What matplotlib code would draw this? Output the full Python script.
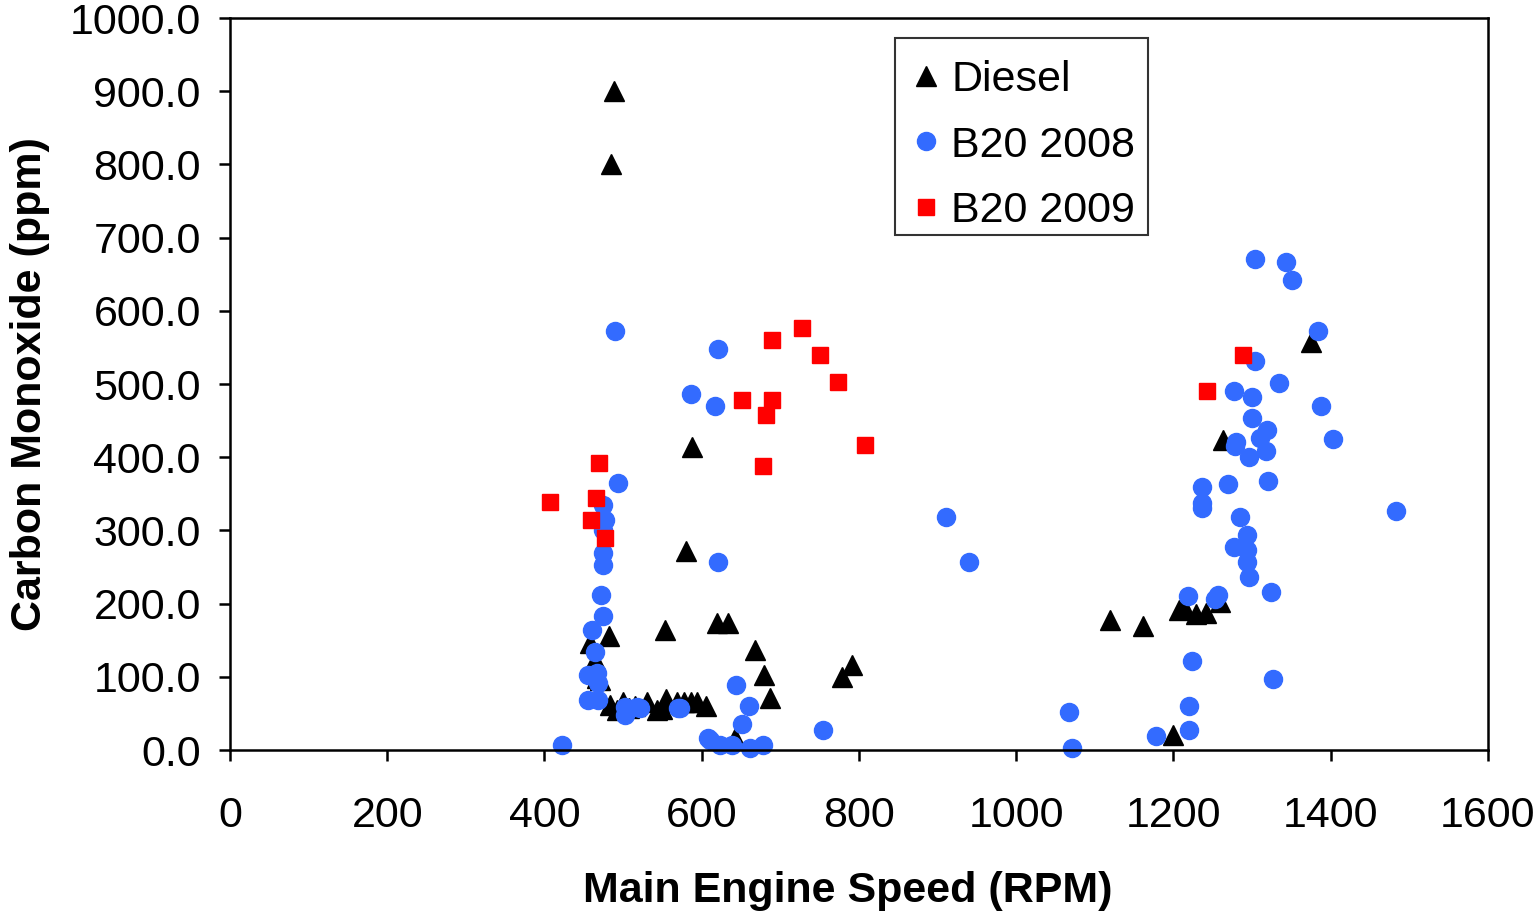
import matplotlib.pyplot as plt
import matplotlib.ticker as mticker
import numpy as np

# Diesel
diesel_rpm = [488, 485, 588, 580, 553, 482, 458, 464, 467, 471,
              483, 492, 500, 508, 515, 530, 543, 550, 555, 568,
              578, 586, 594, 605, 619, 634, 668, 679, 687, 642,
              778, 791, 1119, 1161, 1199, 1207, 1214, 1229, 1242, 1259,
              1263, 1375]
diesel_co = [900, 800, 414, 272, 164, 156, 146, 123, 98, 96,
             62, 55, 65, 58, 60, 65, 55, 56, 70, 65,
             66, 66, 65, 60, 173, 173, 137, 102, 71, 17,
             100, 116, 178, 169, 20, 191, 195, 186, 187, 202,
             423, 557]

# B20 2008
b2008_rpm = [490, 493, 475, 477, 475, 475, 475, 472, 475, 460,
             464, 455, 467, 468, 455, 468, 502, 502, 518, 521,
             570, 621, 422, 608, 621, 586, 617, 643, 660, 651,
             754, 572, 610, 623, 638, 661, 678, 911, 940, 1067,
             1071, 1178, 1304, 1343, 1351, 1384, 1304, 1334, 1277, 1300,
             1388, 1300, 1319, 1310, 1280, 1278, 1318, 1296, 1403, 1269,
             1320, 1236, 1236, 1236, 1285, 1483, 1293, 1277, 1293, 1293,
             1296, 1324, 1257, 1253, 1224, 1327, 1220, 1220, 1218]
b2008_co = [572, 365, 335, 314, 300, 269, 253, 212, 183, 164,
            134, 102, 105, 91, 68, 68, 59, 48, 59, 57,
            57, 257, 7, 16, 548, 486, 470, 89, 60, 35,
            27, 57, 14, 7, 7, 3, 7, 318, 257, 52,
            3, 19, 671, 667, 642, 572, 531, 502, 491, 482,
            470, 454, 437, 426, 421, 416, 408, 400, 425, 363,
            368, 359, 337, 330, 318, 326, 294, 277, 273, 257,
            236, 216, 212, 207, 122, 97, 60, 27, 210]

# B20 2009
b2009_rpm = [407, 470, 466, 459, 477, 689, 727, 750, 773, 651,
             689, 682, 678, 808, 1289, 1243]
b2009_co = [339, 392, 344, 314, 290, 560, 577, 540, 503, 478,
            478, 458, 388, 417, 540, 491]

x_ticks = [0, 200, 400, 600, 800, 1000, 1200, 1400, 1600]
y_ticks = [0, 100, 200, 300, 400, 500, 600, 700, 800, 900, 1000]

plt.rcParams['font.family'] = ['Liberation Sans', 'DejaVu Sans']

fig = plt.figure(figsize=(15.37, 9.11), dpi=100)
ax = fig.add_axes([0.1496, 0.1767, 0.8185, 0.8035])

ax.plot(diesel_rpm, diesel_co, linestyle='none', marker='^', markersize=15,
        color='black', label='Diesel', clip_on=False)
ax.plot(b2008_rpm, b2008_co, linestyle='none', marker='o', markersize=13,
        color='#336BFF', label='B20 2008', clip_on=False)
ax.plot(b2009_rpm, b2009_co, linestyle='none', marker='s', markersize=12,
        color='#FF0000', label='B20 2009', clip_on=False)

ax.set_xlim(0, 1600)
ax.set_ylim(0, 1000)
ax.set_xticks(x_ticks)
ax.set_yticks(y_ticks)
ax.yaxis.set_major_formatter(mticker.FormatStrFormatter('%.1f'))

for side in ['top', 'right', 'left', 'bottom']:
    ax.spines[side].set_linewidth(1.8)
    ax.spines[side].set_color('black')

ax.tick_params(axis='both', direction='out', length=8, width=1.8,
               labelsize=31)
ax.tick_params(axis='y', pad=13)
ax.tick_params(axis='x', pad=25)

ax.set_xlabel('Main Engine Speed (RPM)', fontsize=31, fontweight='bold', labelpad=25)
ax.xaxis.label.set_x(0.491)
ax.set_ylabel('Carbon Monoxide (ppm)', fontsize=31, fontweight='bold', labelpad=14)

leg = ax.legend(loc='upper left', bbox_to_anchor=(0.529, 0.973), fontsize=31,
                frameon=True, fancybox=False, borderpad=0.3, handletextpad=0.2,
                handlelength=0.8, labelspacing=0.6, borderaxespad=0)
leg.get_frame().set_edgecolor('black')
leg.get_frame().set_linewidth(1.5)
# nudge legend entries down inside the frame
for t in leg.get_texts():
    t.set_position((0, -9))
for h in leg.legend_handles:
    h.set_ydata(np.asarray(h.get_ydata(), dtype=float) - 9 * 72 / 100)

fig.savefig('out.png', dpi=100)
